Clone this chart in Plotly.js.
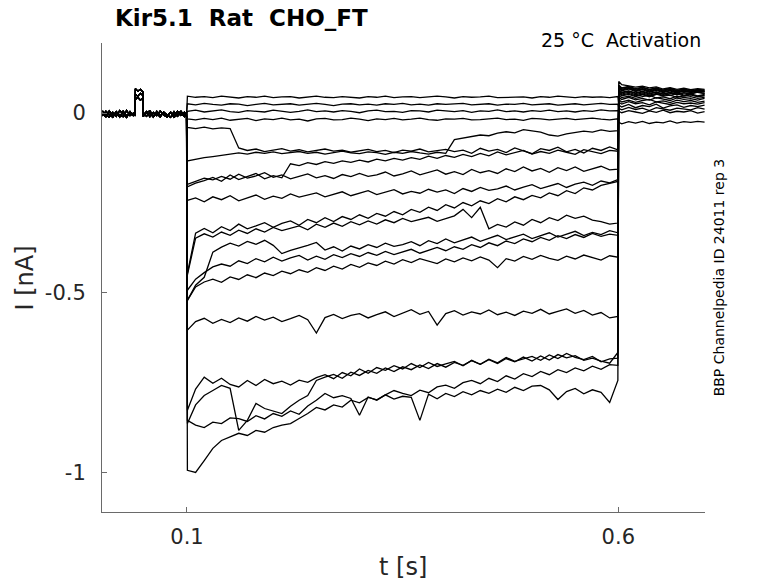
<!DOCTYPE html>
<html>
<head>
<meta charset="utf-8">
<script src="https://cdn.plot.ly/plotly-3.0.1.min.js"></script>
<style>
  html, body { margin: 0; padding: 0; background: #fff; }
  #plot { width: 778px; height: 583px; }
</style>
</head>
<body>
<div id="plot"></div>
<script>
// time points [s]: holding, voltage step, tail
const preT = [0.002,0.006,0.010,0.014,0.018,0.022,0.026,0.030,0.034,0.038,
  0.0398,0.0402,0.043,0.046,0.0488,0.0492,0.053,0.057,0.061,0.065,
  0.069,0.073,0.077,0.081,0.085,0.089,0.093,0.097,0.0995];
const stepT = [0.1005,0.11,0.12,0.13,0.14,0.15,0.16,0.17,0.18,0.19,
  0.20,0.21,0.22,0.23,0.24,0.25,0.26,0.27,0.28,0.29,
  0.30,0.31,0.32,0.33,0.34,0.35,0.36,0.37,0.38,0.39,
  0.40,0.41,0.42,0.43,0.44,0.45,0.46,0.47,0.48,0.49,
  0.50,0.51,0.52,0.53,0.54,0.55,0.56,0.57,0.58,0.59,
  0.5995];
const tailT = [0.6005,0.604,0.612,0.620,0.628,0.636,0.644,0.652,0.660,0.668,0.676,0.684,0.692,0.700];

// holding current [nA] (with the short test pulse)
const baseA = [-0.002,-0.010,0.006,-0.007,0.003,-0.011,0.005,-0.008,0.001,-0.004,
  -0.006,0.068,0.061,0.066,0.059,-0.008,0.004,-0.010,0.002,-0.007,
  0.006,-0.005,-0.011,0.003,-0.008,0.005,-0.006,0.002,-0.009];
const baseB = [-0.008,0.005,-0.004,-0.012,0.004,-0.006,-0.010,0.007,-0.007,0.001,
  0.003,0.052,0.047,0.055,0.049,0.002,-0.009,0.001,-0.011,0.005,
  -0.007,0.002,-0.006,-0.012,0.004,-0.009,0.001,-0.010,0.002];
const baseC = [0.006,-0.005,-0.011,0.002,-0.009,0.007,-0.003,-0.012,0.004,-0.008,
  0.005,0.038,0.044,0.036,0.041,-0.010,0.001,0.006,-0.008,-0.001,
  -0.011,0.003,-0.007,0.001,-0.012,-0.002,0.005,-0.008,-0.003];

// current during the step [nA], one array per sweep
const step1 = [0.047,0.044,0.046,0.043,0.047,0.045,0.042,0.046,0.044,0.047,
  0.043,0.045,0.046,0.042,0.045,0.047,0.044,0.043,0.046,0.045,
  0.042,0.046,0.044,0.047,0.043,0.045,0.046,0.043,0.044,0.047,
  0.045,0.042,0.046,0.044,0.045,0.047,0.043,0.044,0.046,0.045,
  0.042,0.046,0.044,0.047,0.045,0.043,0.046,0.044,0.045,0.043,
  0.046];
const step2 = [0.026,0.023,0.027,0.024,0.022,0.026,0.025,0.021,0.025,0.027,
  0.023,0.024,0.026,0.022,0.025,0.027,0.024,0.021,0.025,0.026,
  0.023,0.025,0.022,0.026,0.024,0.027,0.023,0.025,0.022,0.026,
  0.024,0.025,0.027,0.023,0.024,0.026,0.022,0.025,0.024,0.027,
  0.023,0.025,0.026,0.022,0.024,0.026,0.023,0.025,0.027,0.024,
  0.025];
const step3 = [0.005,0.008,0.003,0.006,0.009,0.004,0.002,0.007,0.005,0.003,
  0.008,0.006,0.002,0.005,0.009,0.004,0.006,0.003,0.007,0.005,
  0.001,0.006,0.008,0.004,0.005,0.002,0.007,0.006,0.003,0.008,
  0.005,0.004,0.007,0.002,0.006,0.005,0.009,0.004,0.006,0.003,
  0.007,0.005,0.008,0.004,0.006,0.003,0.007,0.005,0.009,0.006,
  0.007];
const step4 = [-0.016,-0.019,-0.015,-0.018,-0.014,-0.020,-0.017,-0.015,-0.021,-0.016,
  -0.018,-0.014,-0.019,-0.017,-0.022,-0.016,-0.015,-0.019,-0.018,-0.014,
  -0.017,-0.021,-0.016,-0.018,-0.015,-0.019,-0.017,-0.014,-0.018,-0.020,
  -0.016,-0.017,-0.015,-0.019,-0.018,-0.016,-0.014,-0.018,-0.017,-0.020,
  -0.015,-0.016,-0.019,-0.017,-0.015,-0.018,-0.016,-0.014,-0.017,-0.019,
  -0.016];
const step5 = [-0.040,-0.043,-0.039,-0.044,-0.041,-0.043,-0.097,-0.104,-0.100,-0.107,
  -0.103,-0.099,-0.106,-0.102,-0.108,-0.104,-0.100,-0.106,-0.103,-0.109,
  -0.105,-0.101,-0.107,-0.104,-0.110,-0.103,-0.106,-0.100,-0.108,-0.104,
  -0.101,-0.107,-0.103,-0.112,-0.098,-0.106,-0.101,-0.110,-0.097,-0.105,
  -0.113,-0.099,-0.104,-0.095,-0.108,-0.101,-0.111,-0.098,-0.104,-0.094,
  -0.102];
const step6 = [-0.133,-0.128,-0.124,-0.121,-0.117,-0.113,-0.111,-0.114,-0.109,-0.112,
  -0.108,-0.113,-0.110,-0.107,-0.112,-0.109,-0.114,-0.110,-0.106,-0.111,
  -0.113,-0.108,-0.110,-0.115,-0.109,-0.112,-0.107,-0.111,-0.114,-0.109,
  -0.112,-0.074,-0.070,-0.066,-0.061,-0.063,-0.056,-0.052,-0.055,-0.046,
  -0.050,-0.053,-0.061,-0.064,-0.058,-0.055,-0.050,-0.053,-0.047,-0.051,
  -0.049];
const step7 = [-0.205,-0.195,-0.188,-0.179,-0.190,-0.172,-0.185,-0.176,-0.168,-0.183,
  -0.174,-0.180,-0.141,-0.146,-0.138,-0.143,-0.135,-0.140,-0.133,-0.137,
  -0.131,-0.136,-0.128,-0.133,-0.126,-0.131,-0.124,-0.129,-0.120,-0.126,
  -0.118,-0.123,-0.115,-0.121,-0.112,-0.119,-0.108,-0.116,-0.110,-0.104,
  -0.114,-0.107,-0.112,-0.103,-0.109,-0.115,-0.102,-0.108,-0.113,-0.104,
  -0.106];
const step8 = [-0.198,-0.190,-0.181,-0.186,-0.176,-0.184,-0.170,-0.181,-0.175,-0.166,
  -0.179,-0.172,-0.183,-0.176,-0.169,-0.180,-0.174,-0.182,-0.171,-0.177,
  -0.168,-0.176,-0.172,-0.164,-0.175,-0.169,-0.161,-0.172,-0.166,-0.158,
  -0.170,-0.163,-0.171,-0.157,-0.166,-0.160,-0.168,-0.155,-0.163,-0.150,
  -0.161,-0.154,-0.165,-0.152,-0.160,-0.150,-0.162,-0.155,-0.148,-0.158,
  -0.156];
const step9 = [-0.243,-0.236,-0.247,-0.233,-0.241,-0.230,-0.244,-0.235,-0.228,-0.240,
  -0.231,-0.237,-0.225,-0.234,-0.229,-0.222,-0.233,-0.226,-0.219,-0.230,
  -0.224,-0.216,-0.227,-0.221,-0.213,-0.225,-0.218,-0.223,-0.212,-0.220,
  -0.214,-0.224,-0.210,-0.218,-0.207,-0.215,-0.211,-0.203,-0.214,-0.206,
  -0.199,-0.210,-0.202,-0.196,-0.207,-0.198,-0.192,-0.201,-0.189,-0.194,
  -0.185];
const step10 = [-0.446,-0.334,-0.321,-0.333,-0.316,-0.327,-0.309,-0.322,-0.314,-0.305,
  -0.318,-0.307,-0.300,-0.312,-0.296,-0.305,-0.291,-0.302,-0.288,-0.296,
  -0.283,-0.293,-0.279,-0.287,-0.274,-0.283,-0.268,-0.276,-0.262,-0.271,
  -0.255,-0.264,-0.249,-0.258,-0.244,-0.252,-0.238,-0.247,-0.233,-0.241,
  -0.229,-0.236,-0.222,-0.230,-0.216,-0.224,-0.208,-0.214,-0.201,-0.196,
  -0.190];
const step11 = [-0.450,-0.348,-0.336,-0.345,-0.331,-0.340,-0.326,-0.335,-0.322,-0.331,
  -0.318,-0.327,-0.321,-0.314,-0.325,-0.309,-0.318,-0.306,-0.315,-0.302,
  -0.311,-0.300,-0.309,-0.297,-0.305,-0.293,-0.302,-0.296,-0.290,-0.301,
  -0.294,-0.286,-0.268,-0.291,-0.262,-0.322,-0.310,-0.317,-0.303,-0.312,
  -0.296,-0.305,-0.291,-0.299,-0.284,-0.293,-0.287,-0.298,-0.302,-0.309,
  -0.306];
const step12 = [-0.521,-0.479,-0.457,-0.387,-0.373,-0.362,-0.370,-0.357,-0.365,-0.354,
  -0.368,-0.391,-0.382,-0.376,-0.368,-0.360,-0.381,-0.372,-0.384,-0.370,
  -0.378,-0.366,-0.374,-0.362,-0.371,-0.366,-0.358,-0.369,-0.355,-0.363,
  -0.350,-0.361,-0.353,-0.345,-0.357,-0.348,-0.340,-0.352,-0.344,-0.337,
  -0.349,-0.341,-0.333,-0.345,-0.336,-0.329,-0.341,-0.332,-0.338,-0.327,
  -0.333];
const step13 = [-0.493,-0.462,-0.444,-0.428,-0.420,-0.426,-0.411,-0.419,-0.405,-0.414,
  -0.401,-0.412,-0.403,-0.396,-0.409,-0.398,-0.407,-0.394,-0.402,-0.391,
  -0.399,-0.388,-0.396,-0.385,-0.394,-0.387,-0.379,-0.390,-0.381,-0.374,
  -0.383,-0.372,-0.379,-0.366,-0.374,-0.361,-0.369,-0.356,-0.363,-0.350,
  -0.358,-0.346,-0.354,-0.341,-0.349,-0.338,-0.346,-0.335,-0.343,-0.337,
  -0.340];
const step14 = [-0.521,-0.484,-0.470,-0.462,-0.471,-0.456,-0.463,-0.450,-0.458,-0.445,
  -0.452,-0.440,-0.447,-0.436,-0.443,-0.430,-0.438,-0.426,-0.434,-0.421,
  -0.429,-0.417,-0.424,-0.412,-0.420,-0.408,-0.416,-0.405,-0.412,-0.419,
  -0.406,-0.414,-0.403,-0.411,-0.400,-0.409,-0.430,-0.405,-0.412,-0.399,
  -0.407,-0.396,-0.404,-0.410,-0.398,-0.406,-0.395,-0.403,-0.409,-0.397,
  -0.401];
const step15 = [-0.604,-0.580,-0.571,-0.585,-0.574,-0.583,-0.570,-0.579,-0.566,-0.576,
  -0.568,-0.580,-0.572,-0.563,-0.575,-0.612,-0.569,-0.560,-0.572,-0.563,
  -0.558,-0.570,-0.561,-0.553,-0.566,-0.556,-0.547,-0.560,-0.552,-0.590,
  -0.558,-0.550,-0.562,-0.553,-0.559,-0.548,-0.561,-0.554,-0.563,-0.551,
  -0.557,-0.546,-0.559,-0.552,-0.545,-0.557,-0.549,-0.562,-0.555,-0.570,
  -0.566];
const step16 = [-0.827,-0.768,-0.735,-0.752,-0.738,-0.755,-0.762,-0.744,-0.758,-0.741,
  -0.753,-0.746,-0.757,-0.743,-0.749,-0.736,-0.728,-0.739,-0.722,-0.731,
  -0.712,-0.724,-0.708,-0.716,-0.703,-0.712,-0.697,-0.708,-0.694,-0.705,
  -0.698,-0.691,-0.703,-0.688,-0.699,-0.686,-0.697,-0.683,-0.692,-0.679,
  -0.690,-0.676,-0.687,-0.672,-0.681,-0.675,-0.688,-0.682,-0.690,-0.696,
  -0.666];
const step17 = [-0.864,-0.812,-0.786,-0.772,-0.758,-0.766,-0.883,-0.855,-0.808,-0.822,
  -0.830,-0.836,-0.816,-0.799,-0.786,-0.744,-0.735,-0.727,-0.738,-0.721,
  -0.730,-0.716,-0.724,-0.709,-0.719,-0.706,-0.714,-0.701,-0.711,-0.697,
  -0.707,-0.694,-0.702,-0.689,-0.699,-0.685,-0.695,-0.680,-0.691,-0.684,
  -0.677,-0.688,-0.673,-0.683,-0.669,-0.680,-0.686,-0.677,-0.692,-0.684,
  -0.682];
const step18 = [-0.855,-0.868,-0.875,-0.860,-0.864,-0.848,-0.850,-0.858,-0.842,-0.851,
  -0.836,-0.844,-0.829,-0.838,-0.815,-0.799,-0.780,-0.792,-0.786,-0.794,
  -0.841,-0.790,-0.799,-0.784,-0.796,-0.788,-0.791,-0.855,-0.782,-0.795,
  -0.780,-0.789,-0.775,-0.784,-0.772,-0.780,-0.768,-0.777,-0.763,-0.772,
  -0.760,-0.758,-0.770,-0.797,-0.775,-0.766,-0.781,-0.770,-0.777,-0.805,
  -0.744];
const step19 = [-0.994,-1.000,-0.967,-0.933,-0.911,-0.900,-0.891,-0.897,-0.883,-0.888,
  -0.875,-0.868,-0.864,-0.850,-0.836,-0.819,-0.826,-0.812,-0.818,-0.799,
  -0.806,-0.791,-0.798,-0.784,-0.772,-0.780,-0.786,-0.771,-0.778,-0.762,
  -0.757,-0.766,-0.750,-0.744,-0.753,-0.738,-0.747,-0.731,-0.740,-0.725,
  -0.733,-0.719,-0.728,-0.714,-0.722,-0.709,-0.717,-0.704,-0.713,-0.700,
  -0.702];

// tail current after the step [nA]
const tail1 = [0.022,0.017,0.024,0.015,0.021,0.018,0.025,0.014,0.020,0.023,0.016,0.021,0.018,0.022];
const tail2 = [0.013,0.009,0.016,0.010,0.014,0.007,0.015,0.011,0.008,0.014,0.012,0.009,0.015,0.011];
const tail3 = [0.005,0.001,0.007,0.003,-0.001,0.006,0.002,0.008,0.001,0.005,0.003,0.007,0.000,0.004];
const tail4 = [-0.026,-0.030,-0.024,-0.028,-0.023,-0.029,-0.025,-0.027,-0.022,-0.028,-0.024,-0.026,-0.023,-0.025];
const tail5 = [0.030,0.025,0.032,0.026,0.029,0.023,0.031,0.027,0.024,0.030,0.026,0.028,0.025,0.029];
const tail6 = [0.037,0.031,0.036,0.030,0.035,0.038,0.031,0.034,0.029,0.036,0.032,0.035,0.030,0.033];
const tail7 = [0.043,0.038,0.044,0.037,0.041,0.036,0.043,0.039,0.035,0.042,0.038,0.040,0.036,0.041];
const tail8 = [0.049,0.043,0.047,0.041,0.046,0.050,0.042,0.045,0.040,0.047,0.043,0.046,0.041,0.044];
const tail9 = [0.054,0.048,0.052,0.046,0.051,0.045,0.053,0.047,0.050,0.044,0.049,0.052,0.046,0.048];
const tail10 = [0.060,0.053,0.058,0.051,0.056,0.050,0.055,0.049,0.054,0.057,0.050,0.053,0.048,0.052];
const tail11 = [0.066,0.058,0.062,0.056,0.061,0.055,0.059,0.053,0.058,0.052,0.057,0.054,0.059,0.055];
const tail12 = [0.057,0.050,0.055,0.048,0.053,0.047,0.052,0.056,0.049,0.054,0.047,0.051,0.046,0.050];
const tail13 = [0.070,0.062,0.067,0.060,0.065,0.058,0.063,0.057,0.062,0.056,0.061,0.058,0.063,0.059];
const tail14 = [0.074,0.066,0.071,0.064,0.068,0.062,0.067,0.061,0.066,0.060,0.064,0.059,0.063,0.061];
const tail15 = [0.063,0.056,0.061,0.054,0.059,0.053,0.058,0.052,0.057,0.051,0.056,0.053,0.058,0.054];
const tail16 = [0.078,0.070,0.074,0.068,0.072,0.066,0.070,0.064,0.069,0.063,0.067,0.062,0.066,0.064];
const tail17 = [0.076,0.069,0.073,0.066,0.071,0.065,0.069,0.063,0.068,0.062,0.066,0.061,0.065,0.062];
const tail18 = [0.072,0.064,0.069,0.062,0.067,0.060,0.065,0.059,0.064,0.058,0.062,0.057,0.061,0.059];
const tail19 = [0.088,0.079,0.076,0.072,0.075,0.070,0.073,0.067,0.071,0.066,0.069,0.065,0.068,0.066];

const xTicks = [0.1, 0.6];
const xTickText = ['0.1', '0.6'];
const yTicks = [-1, -0.5, 0];
const yTickText = ['-1', '-0.5', '0'];

const bases = [baseA, baseB, baseC];
const steps = [step1, step2, step3, step4, step5, step6, step7, step8, step9, step10,
  step11, step12, step13, step14, step15, step16, step17, step18, step19];
const tails = [tail1, tail2, tail3, tail4, tail5, tail6, tail7, tail8, tail9, tail10,
  tail11, tail12, tail13, tail14, tail15, tail16, tail17, tail18, tail19];

function drawSweeps() {
	const traces = steps.map((s, k) => ({
		x: preT.concat(stepT, tailT),
		y: bases[k % 3].concat(s, tails[k]),
		type: 'scatter',
		mode: 'lines',
		line: { color: '#000', width: 1.3 },
		hoverinfo: 'skip'
	}));

	const axisGray = '#6a6a6a';
	const layout = {
		width: 778,
		height: 583,
		margin: { l: 102, r: 73, t: 43, b: 71 },
		paper_bgcolor: '#fff',
		plot_bgcolor: '#fff',
		showlegend: false,
		font: { family: 'DejaVu Sans, sans-serif', color: '#262626' },
		title: {
			text: '<b>Kir5.1\u00a0\u00a0Rat\u00a0\u00a0CHO_FT</b>',
			font: { size: 23, color: '#000' },
			xref: 'container', yref: 'container',
			x: 115 / 778, xanchor: 'left',
			y: 1 - 18 / 583, yanchor: 'middle'
		},
		xaxis: {
			range: [0.0015, 0.7005],
			tickvals: xTicks, ticktext: xTickText,
			ticks: 'inside', ticklen: 5, tickcolor: axisGray,
			showline: true, linecolor: axisGray, linewidth: 1,
			showgrid: false, zeroline: false,
			tickfont: { size: 21 }, ticklabelstandoff: 6
		},
		yaxis: {
			range: [-1.11, 0.195],
			tickvals: yTicks, ticktext: yTickText,
			ticks: 'inside', ticklen: 5, tickcolor: axisGray,
			showline: true, linecolor: axisGray, linewidth: 1,
			showgrid: false, zeroline: false,
			tickfont: { size: 21 }, ticklabelstandoff: 11
		},
		annotations: [
			{ text: '25 °C\u00a0\u00a0Activation', xref: 'paper', yref: 'paper',
				x: 0.9967, y: 1.006, xanchor: 'right', yanchor: 'middle',
				showarrow: false, font: { size: 19, color: '#000' } },
			{ text: 'BBP Channelpedia ID 24011 rep 3', xref: 'paper', yref: 'paper',
				x: 1.023, y: 0.5, xanchor: 'center', yanchor: 'middle', textangle: -90,
				showarrow: false, font: { size: 14, color: '#000' } },
			{ text: 'I [nA]', xref: 'paper', yref: 'paper',
				x: -0.1277, y: 0.5, xanchor: 'center', yanchor: 'middle', textangle: -90,
				showarrow: false, font: { size: 24, color: '#262626' } },
			{ text: 't [s]', xref: 'paper', yref: 'paper',
				x: 0.499, y: -0.1173, xanchor: 'center', yanchor: 'middle',
				showarrow: false, font: { size: 24, color: '#262626' } }
		]
	};

	Plotly.newPlot('plot', traces, layout, { staticPlot: true, displayModeBar: false });
}

drawSweeps();
</script>
</body>
</html>
